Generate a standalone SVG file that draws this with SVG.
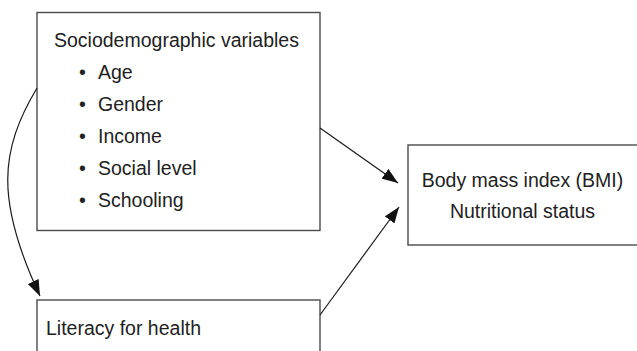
<svg xmlns="http://www.w3.org/2000/svg" width="637" height="351" viewBox="0 0 637 351">
<style>
.box{fill:#fff;stroke:#4a4a4a;stroke-width:1.4}
.t{font-family:"Liberation Sans",Arial,sans-serif;font-size:19.5px;fill:#222}
.c{fill:none;stroke:#1a1a1a;stroke-width:1.2}
</style>
<defs>
<marker id="ah" markerWidth="16" markerHeight="12" refX="16" refY="6" orient="auto" markerUnits="userSpaceOnUse">
<path d="M0,0 L16,6 L0,12 Z" fill="#111"/>
</marker>
</defs>
<rect width="637" height="351" fill="#fff"/>
<g id="socio">
<rect class="box" x="37" y="12.5" width="283" height="218"/>
<text class="t" x="54" y="47">Sociodemographic variables</text>
<text class="t" x="79" y="79">•</text><text class="t" x="98" y="79">Age</text>
<text class="t" x="79" y="111">•</text><text class="t" x="98" y="111">Gender</text>
<text class="t" x="79" y="143">•</text><text class="t" x="98" y="143">Income</text>
<text class="t" x="79" y="175">•</text><text class="t" x="98" y="175">Social level</text>
<text class="t" x="79" y="207">•</text><text class="t" x="98" y="207">Schooling</text>
</g>
<g id="literacy">
<rect class="box" x="37" y="300" width="283" height="60"/>
<text class="t" x="46" y="335">Literacy for health</text>
</g>
<g id="bmi">
<rect class="box" x="408" y="145" width="240" height="100"/>
<text class="t" x="522.5" y="187" text-anchor="middle">Body mass index (BMI)</text>
<text class="t" x="522.5" y="218" text-anchor="middle">Nutritional status</text>
</g>
<g id="connectors">
<path class="c" d="M37,88 C0,150 -5,200 40,296" marker-end="url(#ah)"/>
<line class="c" x1="320" y1="128" x2="398" y2="183" marker-end="url(#ah)"/>
<line class="c" x1="320" y1="315" x2="399" y2="207" marker-end="url(#ah)"/>
</g>
</svg>
